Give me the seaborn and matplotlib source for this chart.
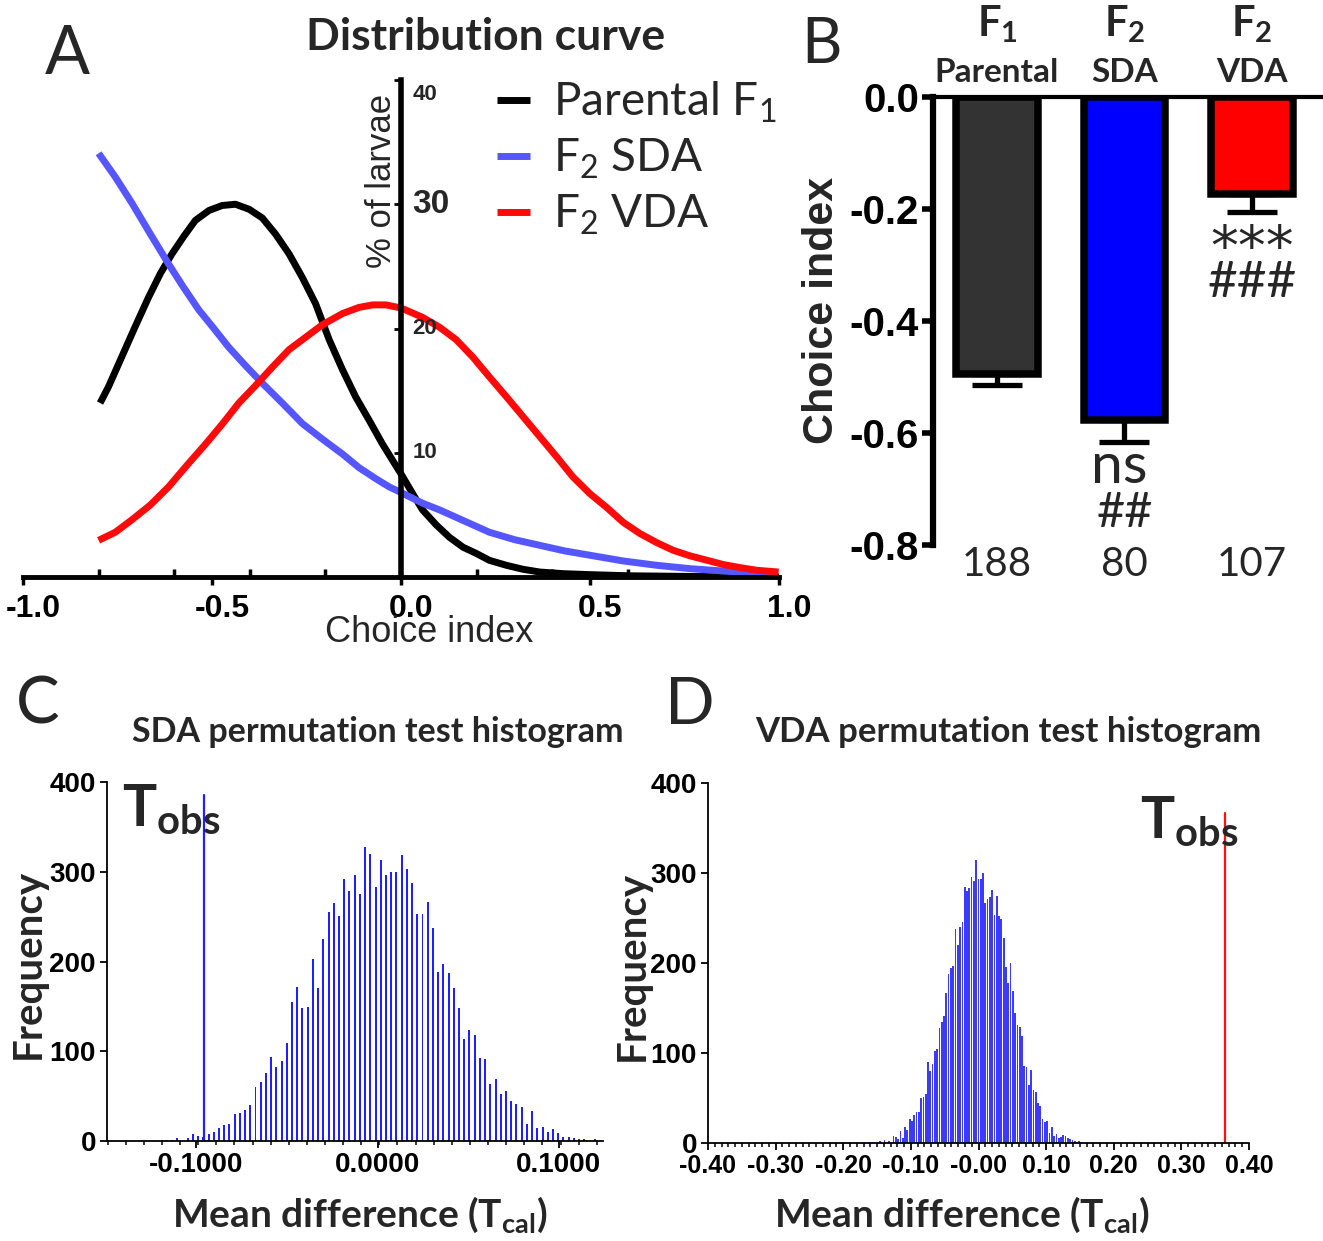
import numpy as np
import pandas as pd
import matplotlib
matplotlib.use("Agg")
import matplotlib.pyplot as plt
import matplotlib.font_manager as fm
from matplotlib.transforms import blended_transform_factory, ScaledTranslation
from matplotlib.ticker import FixedLocator
import seaborn as sns

# ===================== DATA =====================
# Panel A: distribution curves (choice index vs % of larvae)
series_order = ["Parental", "SDA", "VDA"]
legend_labels = ["Parental F$_1$", "F$_2$ SDA", "F$_2$ VDA"]

parental_x = [-0.796, -0.774, -0.739, -0.704, -0.668, -0.637, -0.606, -0.575, -0.544, -0.508,
              -0.473, -0.438, -0.402, -0.367, -0.332, -0.296, -0.261, -0.226, -0.190, -0.155,
              -0.120, -0.084, -0.049, 0.0, 0.031, 0.057, 0.093, 0.128, 0.164, 0.199,
              0.234, 0.279, 0.323, 0.367, 0.429, 0.50, 0.60, 0.75, 1.0]
parental_y = [14.0, 15.3, 17.7, 20.1, 22.5, 24.4, 26.0, 27.4, 28.7, 29.5,
              29.9, 30.0, 29.6, 28.9, 27.6, 26.0, 24.1, 22.0, 19.1, 16.7,
              14.5, 12.6, 10.7, 8.3, 6.7, 5.4, 4.2, 3.2, 2.4, 1.9,
              1.34, 0.94, 0.62, 0.4, 0.27, 0.19, 0.1, 0.05, 0.0]

sda_x = [-0.80, -0.756, -0.712, -0.663, -0.615, -0.575, -0.535, -0.495, -0.456, -0.411,
         -0.367, -0.314, -0.261, -0.208, -0.155, -0.111, -0.066, -0.031, 0.0, 0.057,
         0.102, 0.168, 0.234, 0.301, 0.367, 0.433, 0.50, 0.588, 0.677, 0.765,
         0.853, 0.924, 0.995]
sda_y = [34.1, 32.2, 30.1, 27.6, 25.2, 23.3, 21.5, 20.0, 18.5, 17.0,
         15.6, 14.0, 12.35, 11.1, 9.9, 8.8, 7.9, 7.25, 6.8, 5.94,
         5.4, 4.5, 3.6, 3.0, 2.55, 2.1, 1.75, 1.29, 0.94, 0.67,
         0.48, 0.35, 0.27]

vda_x = [-0.80, -0.756, -0.712, -0.663, -0.615, -0.566, -0.517, -0.473, -0.429, -0.385,
         -0.340, -0.296, -0.252, -0.208, -0.155, -0.111, -0.075, -0.040, 0.0, 0.057,
         0.102, 0.146, 0.19, 0.234, 0.279, 0.323, 0.367, 0.411, 0.455, 0.50,
         0.544, 0.588, 0.632, 0.677, 0.72, 0.765, 0.809, 0.853, 0.898, 0.942, 0.999]
vda_y = [2.95, 3.6, 4.6, 5.8, 7.25, 9.0, 10.7, 12.3, 14.0, 15.4,
         16.9, 18.3, 19.3, 20.3, 21.2, 21.7, 21.9, 21.9, 21.65, 20.9,
         20.1, 19.1, 17.7, 16.1, 14.5, 12.9, 11.3, 9.7, 8.05, 6.7,
         5.6, 4.4, 3.5, 2.76, 2.15, 1.7, 1.35, 1.0, 0.75, 0.54, 0.4]

a_xticks = [-1.0, -0.5, 0.0, 0.5, 1.0]
a_xticklabels = ["-1.0", "-0.5", "0.0", "0.5", "1.0"]
a_xminor = [-0.8, -0.6, -0.4, -0.2, 0.2, 0.4, 0.6, 0.8]
a_yticks = [10, 20, 30, 40]

# Panel B: mean choice index +/- SEM
b_groups = ["Parental", "SDA", "VDA"]
b_generation = ["F$_{\\mathbf{1}}$", "F$_{\\mathbf{2}}$", "F$_{\\mathbf{2}}$"]
b_means = [-0.495, -0.577, -0.174]
b_sems = [0.020, 0.039, 0.032]
b_n = ["188", "80", "107"]
b_stat_vs_parental = ["", "ns", "***"]
b_stat_vs_other = ["", "##", "###"]
b_yticks = [0.0, -0.2, -0.4, -0.6, -0.8]
b_yticklabels = ["0.0", "-0.2", "-0.4", "-0.6", "-0.8"]

# Panel C: SDA permutation test histogram
c_bin_start = -0.1192
c_bin_width = 0.00288
c_counts = [1, 1, 1, 3, 0, 3, 8, 6, 5, 8,
            10, 14, 18, 19, 30, 31, 34, 40, 60, 66,
            76, 94, 83, 89, 109, 155, 172, 148, 149, 203,
            171, 225, 255, 265, 251, 292, 278, 296, 275, 328,
            320, 283, 313, 296, 300, 300, 319, 303, 287, 253,
            253, 266, 237, 188, 197, 187, 171, 148, 114, 124,
            118, 92, 91, 64, 69, 52, 56, 45, 41, 38,
            19, 33, 15, 16, 10, 13, 9, 5, 5, 3,
            2, 2, 0, 2]
c_t_obs = -0.0955
c_t_obs_height = 385
c_xticks = [-0.1, 0.0, 0.1]
c_xticklabels = ["-0.1000", "0.0000", "0.1000"]

# Panel D: VDA permutation test histogram
d_bin_start = -0.1730
d_bin_width = 0.00339
d_counts = [1, 0, 0, 1, 0, 1,
            0, 1, 2, 0, 3, 0, 2, 0, 8, 7,
            4, 13, 6, 18, 15, 27, 24, 31, 35, 35,
            50, 51, 54, 90, 80, 88, 102, 104, 128, 135,
            141, 167, 188, 194, 197, 238, 220, 240, 246, 284,
            280, 283, 296, 291, 314, 293, 293, 300, 267, 271,
            273, 281, 253, 274, 252, 249, 228, 196, 178, 200,
            169, 144, 131, 129, 119, 86, 85, 64, 81, 59,
            57, 44, 41, 27, 23, 24, 11, 18, 8, 10,
            6, 7, 9, 8, 6, 4, 3, 2, 1, 2, 1]
d_t_obs = 0.365
d_t_obs_height = 367
d_xticks = [-0.4, -0.3, -0.2, -0.1, 0.0, 0.1, 0.2, 0.3, 0.4]
d_xticklabels = ["-0.40", "-0.30", "-0.20", "-0.10", "-0.00", "0.10", "0.20", "0.30", "0.40"]

hist_yticks = [0, 100, 200, 300, 400]

# ===================== STYLE =====================
sns.set_style("ticks")
plt.rcParams["font.family"] = ["Lato", "DejaVu Sans"]
plt.rcParams["mathtext.fontset"] = "custom"
plt.rcParams["mathtext.rm"] = "Lato"
plt.rcParams["mathtext.it"] = "Lato:italic"
plt.rcParams["mathtext.bf"] = "Lato:bold"
plt.rcParams["axes.edgecolor"] = "black"
plt.rcParams["xtick.color"] = "black"
plt.rcParams["ytick.color"] = "black"

_names = {f.name for f in fm.fontManager.ttflist}
ARIAL = "Liberation Sans"
HAS_NARROW = "Liberation Sans Narrow" in _names
NARROW = "Liberation Sans Narrow" if HAS_NARROW else "Liberation Sans"
C_TICK_SIZE = 22 if HAS_NARROW else 20
D_TICK_SIZE = 21 if HAS_NARROW else 18

W, H = 1323, 1241
fig = plt.figure(figsize=(W / 100, H / 100), dpi=100)


def add_ax(l, t, r, b):
    return fig.add_axes([l / W, 1 - b / H, (r - l) / W, (b - t) / H])


def ftext(x, y, s, **kw):
    return fig.text(x / W, 1 - y / H, s, **kw)


def style_labels(labels, family, weight, size):
    for lbl in labels:
        lbl.set_fontfamily(family)
        lbl.set_fontweight(weight)
        lbl.set_fontsize(size)


# ===================== PANEL A =====================
axA = add_ax(23, 80, 779, 577)
dfA = pd.concat([
    pd.DataFrame({"x": parental_x, "y": parental_y, "series": "Parental"}),
    pd.DataFrame({"x": sda_x, "y": sda_y, "series": "SDA"}),
    pd.DataFrame({"x": vda_x, "y": vda_y, "series": "VDA"}),
], ignore_index=True)
palA = {"Parental": "black", "SDA": "#5656ff", "VDA": "#ff0a0a"}
sns.lineplot(data=dfA, x="x", y="y", hue="series", hue_order=series_order,
             palette=palA, linewidth=5, sort=False, estimator=None, ax=axA)
for ln in axA.get_lines():
    ln.set_solid_joinstyle("round")
    ln.set_solid_capstyle("butt")
axA.set_xlim(-1, 1)
axA.set_ylim(0, 40)
for s in ["top", "right"]:
    axA.spines[s].set_visible(False)
axA.spines["left"].set_position(("data", 0))
axA.spines["left"].set_linewidth(4)
axA.spines["bottom"].set_linewidth(3.5)
axA.set_xticks(a_xticks)
axA.set_xticklabels(a_xticklabels)
axA.xaxis.set_minor_locator(FixedLocator(a_xminor))
axA.tick_params(axis="x", which="major", direction="out", length=6, width=2.5, pad=6)
axA.tick_params(axis="x", which="minor", direction="in", length=6, width=2.5)
axA.set_yticks(a_yticks)
axA.tick_params(axis="y", direction="out", length=5, width=2, labelleft=False)
style_labels(axA.get_xticklabels(), ARIAL, "bold", 23)
shift = ScaledTranslation(10 / 100, 0, fig.dpi_scale_trans)
for lbl in axA.get_xticklabels():
    lbl.set_transform(lbl.get_transform() + shift)
axA.set_xlabel("")
axA.set_ylabel("")
for v in a_yticks:
    big = (v == 30)
    axA.text(0.03, v - (1.2 if v == 40 else 0), f"{v}", ha="left", va="center",
             fontfamily=ARIAL, fontweight="bold", fontsize=24 if big else 16)
handles, _ = axA.get_legend_handles_labels()
leg = axA.legend(handles, legend_labels, loc="upper left",
                 bbox_to_anchor=(497 / W, 1 - 80 / H), bbox_transform=fig.transFigure,
                 frameon=False, fontsize=33, handlelength=0.72, handletextpad=0.5,
                 labelspacing=0.26, borderaxespad=0, borderpad=0)
for ln in leg.get_lines():
    ln.set_linewidth(5)
ftext(486, 37, "Distribution curve", ha="center", va="center", fontsize=32, fontweight="bold")
ftext(67, 55, "A", ha="center", va="center", fontsize=48)
ftext(381, 181, "% of larvae", rotation=90, ha="center", va="center", fontfamily=ARIAL, fontsize=25)
ftext(429, 632, "Choice index", ha="center", va="center", fontfamily=ARIAL, fontsize=26)

# ===================== PANEL B =====================
axB = add_ax(933, 97, 1323, 545)
dfB = pd.DataFrame({"group": b_groups, "mean": b_means})
sns.barplot(data=dfB, x="group", y="mean", hue="group", palette=["#333333", "#0000ff", "#ff0000"],
            saturation=1, legend=False, width=0.64, edgecolor="black", linewidth=5.4,
            errorbar=None, ax=axB)
pos = np.arange(len(b_groups))
axB.errorbar(pos, b_means, yerr=[b_sems, np.zeros(len(b_sems))], fmt="none", ecolor="black",
             elinewidth=3.8, capsize=17.8, capthick=3.8, zorder=1)
axB.set_xlim(-0.502, 2.557)
axB.set_ylim(-0.8, 0)
axB.spines["right"].set_visible(False)
axB.spines["bottom"].set_visible(False)
axB.spines["top"].set_linewidth(3)
axB.spines["left"].set_linewidth(4.5)
axB.set_yticks(b_yticks)
axB.set_yticklabels(b_yticklabels)
axB.tick_params(axis="y", direction="out", length=8, width=4, pad=2)
style_labels(axB.get_yticklabels(), ARIAL, "bold", 29)
axB.set_xticks([])
axB.set_xlabel("")
axB.set_ylabel("")
trB = blended_transform_factory(axB.transData, fig.transFigure)
for i in range(len(b_groups)):
    axB.text(pos[i], 1 - 24 / H, b_generation[i], transform=trB, ha="center", va="center",
             fontsize=30, fontweight="bold")
    axB.text(pos[i], 1 - 72 / H, b_groups[i], transform=trB, ha="center", va="center",
             fontsize=24, fontweight="bold")
    axB.text(pos[i], 1 - 565 / H, b_n[i], transform=trB, ha="center", va="center", fontsize=29)
    low = b_means[i] - b_sems[i]
    stat = b_stat_vs_parental[i]
    if stat == "ns":
        axB.text(pos[i] - 0.04, low - 0.045, stat, ha="center", va="center", fontsize=41,
                 clip_on=False)
    elif stat:
        axB.text(pos[i], low - 0.094, stat, ha="center", va="baseline", fontsize=40,
                 fontfamily="DejaVu Sans", clip_on=False)
    if b_stat_vs_other[i]:
        axB.text(pos[i], low - 0.126, b_stat_vs_other[i], ha="center", va="center",
                 fontsize=37 if len(b_stat_vs_other[i]) == 3 else 35, clip_on=False)
ftext(822, 45, "B", ha="center", va="center", fontsize=45)
ftext(822, 310, "Choice index", rotation=90, ha="center", va="center", fontfamily=ARIAL,
      fontweight="bold", fontsize=31)


# ===================== PANELS C & D =====================
def hist_panel(ax, counts, start, width, color, shrink, t_obs, t_h, t_color,
               xlim, xticks, xticklabels, tick_size):
    n = len(counts)
    df = pd.DataFrame({"x": start + width * np.arange(n), "w": np.asarray(counts, dtype=float)})
    lo = start - width / 2
    sns.histplot(data=df, x="x", weights="w", binwidth=width, binrange=(lo, lo + width * n),
                 shrink=shrink, color=color, alpha=1, linewidth=0, ax=ax)
    ax.plot([t_obs, t_obs], [0, t_h], color=t_color, lw=1.6)
    ax.set_xlim(*xlim)
    ax.set_ylim(0, 400)
    for s in ["top", "right"]:
        ax.spines[s].set_visible(False)
    for s in ["left", "bottom"]:
        ax.spines[s].set_linewidth(1.3)
    ax.set_xticks(xticks)
    ax.set_xticklabels(xticklabels)
    ax.xaxis.set_minor_locator(FixedLocator(np.round(np.arange(xlim[0], xlim[1] + 1e-9, 0.01), 3)))
    ax.set_yticks(hist_yticks)
    ax.set_yticklabels([str(v) for v in hist_yticks])
    ax.tick_params(axis="both", which="major", direction="out", length=5, width=1.3, pad=3)
    ax.tick_params(axis="x", which="minor", direction="out", length=3, width=1.1)
    style_labels(ax.get_xticklabels(), NARROW, "bold", tick_size)
    style_labels(ax.get_yticklabels(), NARROW, "bold", 20 if not HAS_NARROW else 22)
    ax.set_xlabel("")
    ax.set_ylabel("")


axC = add_ax(107, 782, 603, 1141)
hist_panel(axC, c_counts, c_bin_start, c_bin_width, "#1f1fff", 0.38, c_t_obs, c_t_obs_height,
           "#1f1fff", (-0.1493, 0.1244), c_xticks, c_xticklabels, C_TICK_SIZE)
axD = add_ax(708, 783, 1249, 1143)
hist_panel(axD, d_counts, d_bin_start, d_bin_width, "#3c3cf8", 0.75, d_t_obs, d_t_obs_height,
           "#ff1010", (-0.4, 0.4), d_xticks, d_xticklabels, D_TICK_SIZE)

ftext(38, 705, "C", ha="center", va="center", fontsize=47)
ftext(378, 732, "SDA permutation test histogram", ha="center", va="center", fontsize=24.5,
      fontweight="bold")
ftext(28, 964, "Frequency", rotation=90, ha="center", va="center", fontsize=29, fontweight="bold")
ftext(360, 1215, "Mean difference (T$_{\\mathbf{cal}}$)", ha="center", va="center", fontsize=28,
      fontweight="bold")
ftext(122, 826, "T$_{\\mathbf{obs}}$", ha="left", va="baseline", fontsize=41, fontweight="bold")

ftext(690, 705, "D", ha="center", va="center", fontsize=47)
ftext(1008, 732, "VDA permutation test histogram", ha="center", va="center", fontsize=25,
      fontweight="bold")
ftext(632, 966, "Frequency", rotation=90, ha="center", va="center", fontsize=29, fontweight="bold")
ftext(962, 1215, "Mean difference (T$_{\\mathbf{cal}}$)", ha="center", va="center", fontsize=28,
      fontweight="bold")
ftext(1140, 838, "T$_{\\mathbf{obs}}$", ha="left", va="baseline", fontsize=41, fontweight="bold")

fig.savefig("out.png", dpi=100)
